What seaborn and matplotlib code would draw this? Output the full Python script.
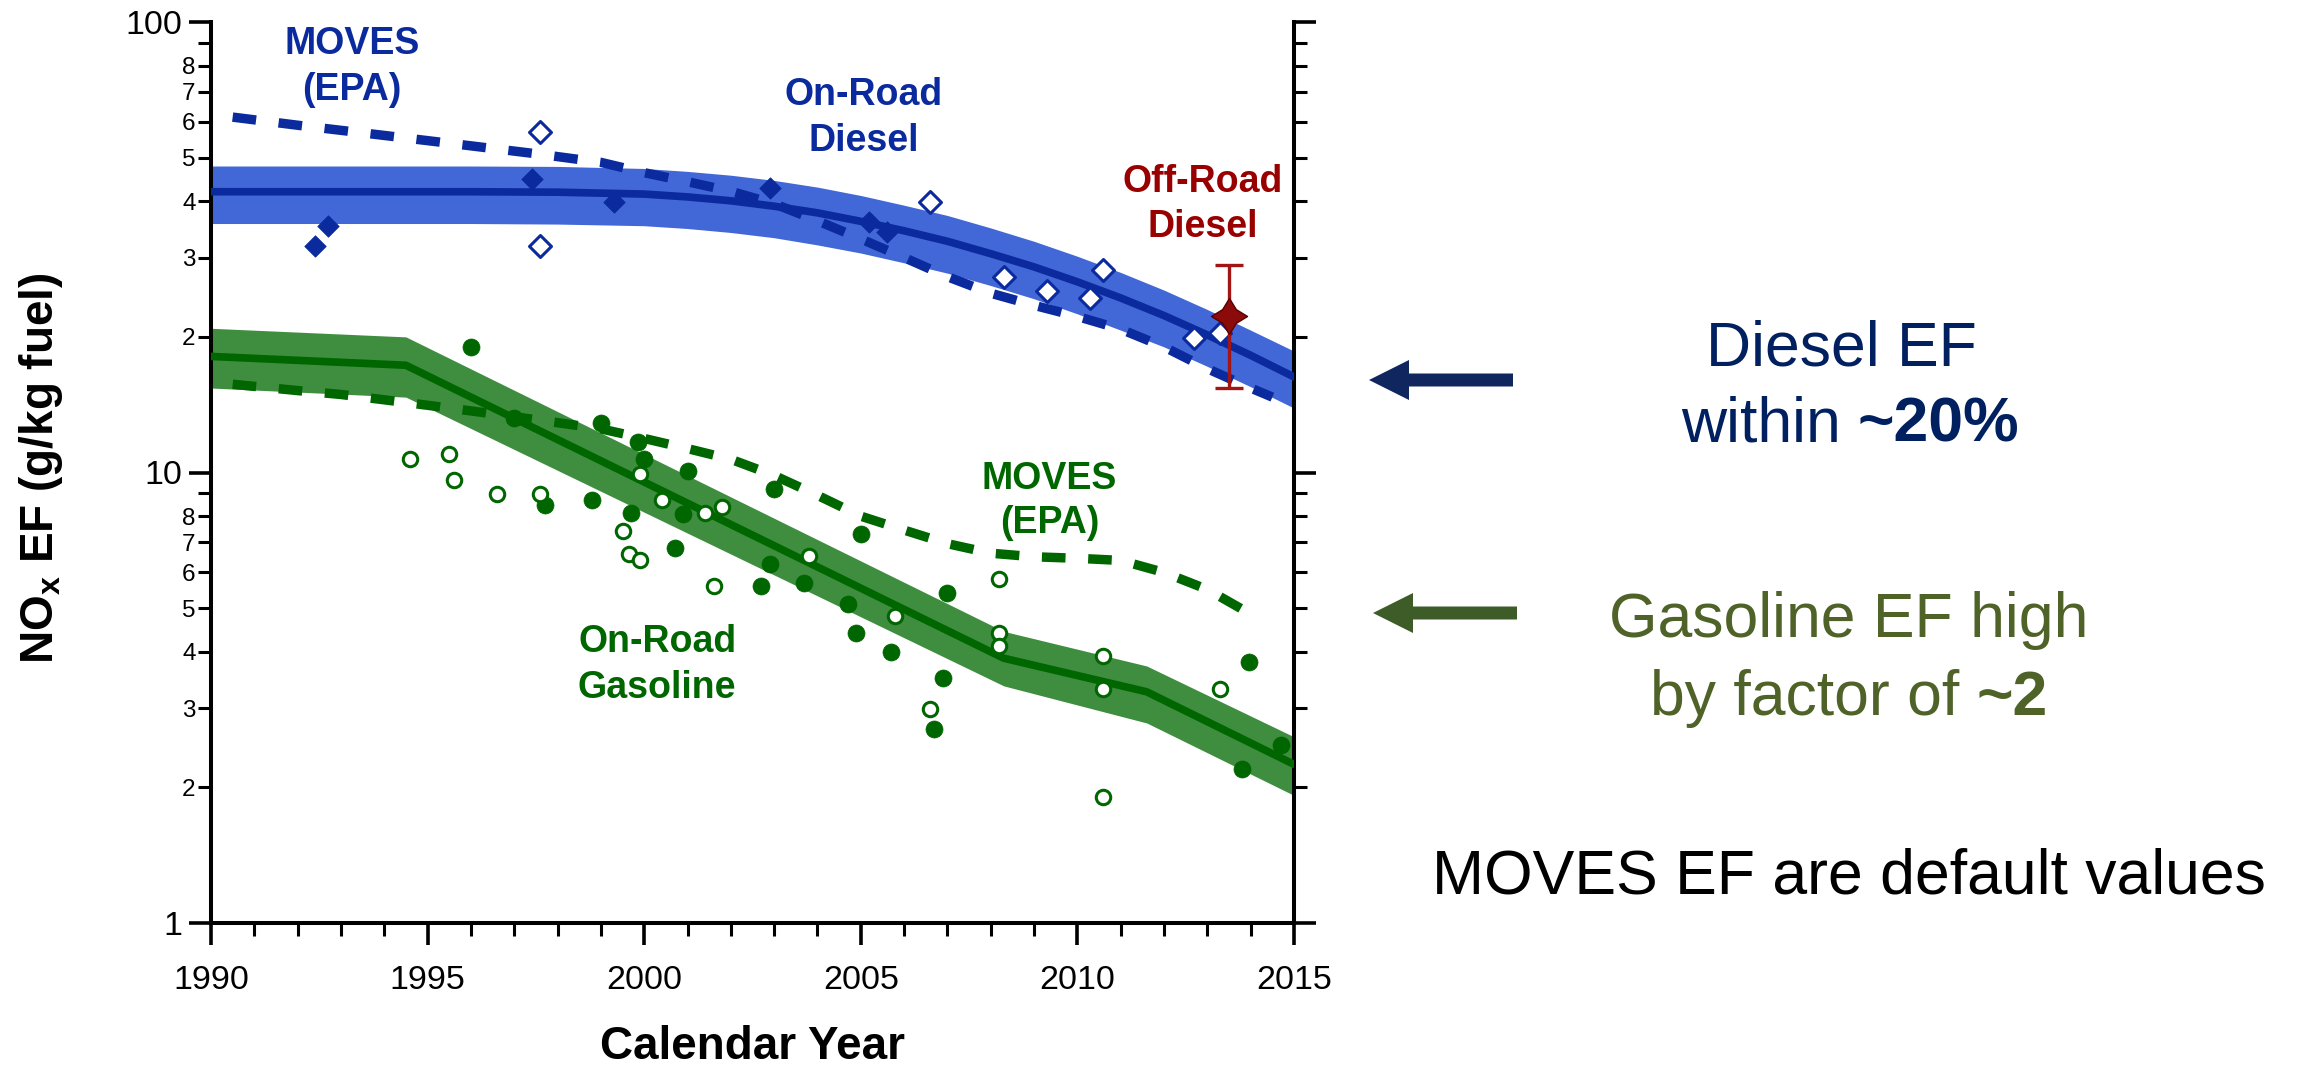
import matplotlib
matplotlib.use("Agg")
import matplotlib.pyplot as plt
from matplotlib.patches import FancyArrow
from matplotlib.path import Path
from matplotlib.ticker import FixedLocator, FixedFormatter
import pandas as pd
import seaborn as sns

# ---------------- data ----------------
# On-road diesel fit: centre line and uncertainty band (g/kg fuel)
diesel_fit_year = [1990, 1996, 1998, 2000, 2001, 2002, 2003, 2004, 2005, 2006, 2007,
                   2008, 2009, 2010, 2011, 2012, 2013, 2014, 2015]
diesel_fit_ef = [42.0, 42.0, 41.9, 41.5, 40.9, 40.1, 39.0, 37.7, 36.1, 34.4, 32.6,
                 30.6, 28.6, 26.5, 24.4, 22.3, 20.2, 18.2, 16.3]
diesel_fit_hi = [47.9, 47.9, 47.8, 47.3, 46.6, 45.7, 44.5, 43.0, 41.2, 39.2, 37.2,
                 34.9, 32.6, 30.2, 27.8, 25.4, 23.0, 20.7, 18.6]
diesel_fit_lo = [35.7, 35.7, 35.6, 35.3, 34.8, 34.1, 33.2, 32.0, 30.7, 29.2, 27.7,
                 26.0, 24.3, 22.5, 20.7, 19.0, 17.2, 15.5, 13.9]

# MOVES (EPA) default diesel emission factors
diesel_moves_year = [1990.5, 1992, 1994, 1996, 1997.5, 1999, 2000, 2001, 2002, 2003, 2004,
                     2005, 2006, 2007, 2008, 2009, 2010, 2011, 2012, 2013, 2014, 2014.5]
diesel_moves_ef = [61.5, 59.0, 56.0, 53.1, 51.0, 48.8, 46.3, 44.2, 42.1, 39.5, 36.2,
                   33.0, 30.0, 27.2, 25.0, 23.5, 22.2, 20.8, 19.0, 17.0, 15.4, 14.7]

# Diesel measurements (filled and open diamonds)
diesel_filled_year = [1992.4, 1992.7, 1997.4, 1999.3, 2002.9, 2005.2, 2005.6]
diesel_filled_ef = [31.9, 35.2, 44.9, 39.9, 42.7, 36.0, 34.2]
diesel_open_year = [1997.6, 1997.6, 2006.6, 2008.3, 2009.3, 2010.3, 2010.6, 2012.7, 2013.3]
diesel_open_ef = [56.9, 31.9, 39.9, 27.2, 25.3, 24.4, 28.1, 19.9, 20.4]

# Off-road diesel estimate with uncertainty range
offroad_year = [2013.5]
offroad_ef = [22.2]
offroad_lo = [15.4]
offroad_hi = [28.9]

# On-road gasoline fit: centre line and uncertainty band
gas_fit_year = [1990, 1994.5, 2008.3, 2011.6, 2015]
gas_fit_ef = [18.1, 17.3, 3.87, 3.26, 2.25]
gas_fit_hi = [20.9, 20.0, 4.44, 3.72, 2.59]
gas_fit_lo = [15.4, 14.7, 3.36, 2.78, 1.92]

# MOVES (EPA) default gasoline emission factors
gas_moves_year = [1990.5, 1992, 1993, 1994, 1995, 1996, 1997, 1998, 1999, 2000, 2001, 2002,
                  2003, 2004, 2005, 2006, 2007, 2008, 2009, 2010, 2011, 2012, 2013, 2014]
gas_moves_ef = [15.7, 15.2, 14.9, 14.5, 14.1, 13.7, 13.3, 12.9, 12.5, 11.9, 11.3, 10.7,
                9.85, 8.9, 8.0, 7.45, 6.95, 6.62, 6.5, 6.45, 6.38, 6.0, 5.5, 4.85]

# Gasoline measurements (filled and open circles)
gas_filled_year = [1996.0, 1997.0, 1997.7, 1998.8, 1999.0, 1999.7, 1999.85, 2000.0, 2000.7,
                   2000.9, 2001.0, 2002.7, 2002.9, 2003.0, 2003.7, 2004.7, 2004.9, 2005.0,
                   2005.7, 2006.7, 2006.9, 2007.0, 2013.8, 2013.95, 2014.7]
gas_filled_ef = [19.0, 13.2, 8.48, 8.71, 12.9, 8.11, 11.7, 10.7, 6.8,
                 8.1, 10.1, 5.61, 6.27, 9.19, 5.69, 5.1, 4.41, 7.3,
                 3.99, 2.70, 3.50, 5.40, 2.20, 3.79, 2.49]
gas_open_year = [1994.6, 1995.5, 1995.6, 1996.6, 1997.6, 1999.5, 1999.65, 1999.9, 1999.9,
                 2000.4, 2001.4, 2001.6, 2001.8, 2003.8, 2005.8, 2006.6, 2008.2, 2008.2,
                 2008.2, 2010.6, 2010.6, 2010.6, 2013.3]
gas_open_ef = [10.7, 11.0, 9.6, 8.97, 8.97, 7.41, 6.6, 6.4, 9.92,
               8.69, 8.11, 5.61, 8.4, 6.53, 4.81, 2.99, 5.79, 4.41,
               4.11, 3.91, 3.30, 1.90, 3.31]

# axis ticks
x_major = [1990, 1995, 2000, 2005, 2010, 2015]
x_minor = list(range(1990, 2016))
y_major = [1, 10, 100]
y_major_labels = ["1", "10", "100"]
y_minor = [2, 3, 4, 5, 6, 7, 8, 9, 20, 30, 40, 50, 60, 70, 80, 90]
y_minor_labels = ["2", "3", "4", "5", "6", "7", "8", "", "2", "3", "4", "5", "6", "7", "8", ""]

# ---------------- style ----------------
sns.set_theme(style="ticks")
plt.rcParams["font.family"] = ["Liberation Sans", "DejaVu Sans"]
plt.rcParams["mathtext.fontset"] = "custom"
plt.rcParams["mathtext.rm"] = "Liberation Sans"
plt.rcParams["mathtext.bf"] = "Liberation Sans:bold"
plt.rcParams["mathtext.it"] = "Liberation Sans:italic"
plt.rcParams["axes.edgecolor"] = "black"
plt.rcParams["xtick.color"] = "black"
plt.rcParams["ytick.color"] = "black"
plt.rcParams["text.color"] = "black"

BLUE_BAND = "#4267D6"
BLUE_DARK = "#0A2A9E"
GREEN_BAND = "#3F8E40"
GREEN_DARK = "#006600"
RED_TEXT = "#990000"
RED_MARK = "#8B0A0A"
NAVY = "#002060"
OLIVE = "#4F6228"
NAVY_ARROW = "#10265F"
OLIVE_ARROW = "#3D5C27"

W, H = 2303, 1068
fig = plt.figure(figsize=(W / 100, H / 100), dpi=100)
ax = fig.add_axes([211 / W, 1 - 923 / H, (1294 - 211) / W, (923 - 22) / H])


def px(x, y):
    """pixel position (from top-left) to figure inches."""
    return x / 100, (H - y) / 100


# ---------------- bands ----------------
ax.fill_between(diesel_fit_year, diesel_fit_lo, diesel_fit_hi, color=BLUE_BAND, lw=0, zorder=1)
ax.fill_between(gas_fit_year, gas_fit_lo, gas_fit_hi, color=GREEN_BAND, lw=0, zorder=1)

# ---------------- lines ----------------
fit_lines = [
    (diesel_fit_year, diesel_fit_ef, BLUE_DARK),
    (gas_fit_year, gas_fit_ef, GREEN_DARK),
]
for xs, ys, c in fit_lines:
    sns.lineplot(x=xs, y=ys, ax=ax, color=c, lw=5.5, estimator=None, sort=False, zorder=3)

moves_lines = [
    (diesel_moves_year, diesel_moves_ef, BLUE_DARK),
    (gas_moves_year, gas_moves_ef, GREEN_DARK),
]
for xs, ys, c in moves_lines:
    sns.lineplot(x=xs, y=ys, ax=ax, color=c, lw=6.8, estimator=None, sort=False, zorder=4)
    ln = ax.lines[-1]
    ln.set_linestyle((0, (2.5, 2.4)))
    ln.set_dash_capstyle("butt")

# ---------------- markers ----------------
sns.scatterplot(x=diesel_filled_year, y=diesel_filled_ef, ax=ax, marker="D", s=120,
                color=BLUE_DARK, edgecolor=BLUE_DARK, linewidth=0.5, zorder=6, legend=False)
sns.scatterplot(x=diesel_open_year, y=diesel_open_ef, ax=ax, marker="D", s=125,
                color="white", edgecolor=BLUE_DARK, linewidth=2.2, zorder=6, legend=False)
sns.scatterplot(x=gas_filled_year, y=gas_filled_ef, ax=ax, marker="o", s=150,
                color=GREEN_DARK, edgecolor=GREEN_DARK, linewidth=0.5, zorder=6, legend=False)
sns.scatterplot(x=gas_open_year, y=gas_open_ef, ax=ax, marker="o", s=108,
                color="white", edgecolor=GREEN_DARK, linewidth=2.2, zorder=6, legend=False)

# off-road diesel: error bar plus four-pointed star
ax.errorbar(offroad_year, offroad_ef,
            yerr=[[e - lo for e, lo in zip(offroad_ef, offroad_lo)],
                  [hi - e for e, hi in zip(offroad_ef, offroad_hi)]],
            fmt="none", ecolor="#A31515", elinewidth=2.4, capsize=10, capthick=2.4, zorder=7)
k = 0.38
star = Path([(0, 1), (k, k), (1, 0), (k, -k), (0, -1), (-k, -k), (-1, 0), (-k, k), (0, 1)],
            [Path.MOVETO] + [Path.LINETO] * 7 + [Path.CLOSEPOLY])
sns.scatterplot(x=offroad_year, y=offroad_ef, ax=ax, marker=star, s=26 ** 2,
                color=RED_MARK, edgecolor="#5A0000", linewidth=1.0, zorder=8, legend=False)

# ---------------- axes ----------------
ax.set_yscale("log")
ax.set_xlim(1990, 2015)
ax.set_ylim(1, 100)
ax.xaxis.set_major_locator(FixedLocator(x_major))
ax.xaxis.set_minor_locator(FixedLocator(x_minor))
ax.yaxis.set_major_locator(FixedLocator(y_major))
ax.yaxis.set_major_formatter(FixedFormatter(y_major_labels))
ax.yaxis.set_minor_locator(FixedLocator(y_minor))
ax.yaxis.set_minor_formatter(FixedFormatter(y_minor_labels))
ax.set_xlabel("")
ax.set_ylabel("")

for side in ["left", "right", "bottom"]:
    ax.spines[side].set_visible(True)
    ax.spines[side].set_linewidth(2.9)
    ax.spines[side].set_color("black")
ax.spines["top"].set_visible(False)

ax.tick_params(axis="both", which="major", direction="out", length=16, width=2.6,
               labelsize=24.5, colors="black")
ax.tick_params(axis="both", which="minor", direction="out", length=9.5, width=2.2,
               colors="black")
ax.tick_params(axis="x", which="major", pad=14)
ax.tick_params(axis="y", which="major", pad=4.5, right=True, labelright=False)
ax.tick_params(axis="y", which="minor", pad=1.5, labelsize=17.5, right=True, labelright=False)
ax.tick_params(axis="x", which="both", top=False)

# axis titles
fig.text(*px(753, 1059), "Calendar Year", ha="center", va="baseline", fontsize=33,
         fontweight="bold", transform=fig.dpi_scale_trans)
fig.text(*px(53, 468), r"NO$_\mathbf{x}$ EF (g/kg fuel)", rotation=90, rotation_mode="anchor",
         ha="center", va="baseline", fontsize=33, fontweight="bold",
         transform=fig.dpi_scale_trans)

# ---------------- in-plot labels ----------------
LBL = 27
in_plot = [
    ("MOVES", 1993.25, 85.1, BLUE_DARK),
    ("(EPA)", 1993.25, 67.0, BLUE_DARK),
    ("On-Road", 2005.07, 65.3, BLUE_DARK),
    ("Diesel", 2005.07, 51.8, BLUE_DARK),
    ("Off-Road", 2012.9, 42.0, RED_TEXT),
    ("Diesel", 2012.9, 33.3, RED_TEXT),
    ("MOVES", 2009.36, 9.19, GREEN_DARK),
    ("(EPA)", 2009.36, 7.34, GREEN_DARK),
    ("On-Road", 2000.3, 3.99, GREEN_DARK),
    ("Gasoline", 2000.3, 3.16, GREEN_DARK),
]
for s, xv, yv, c in in_plot:
    ax.text(xv, yv, s, ha="center", va="baseline", fontsize=LBL, fontweight="bold",
            color=c, zorder=9)

# ---------------- right-hand commentary ----------------
SIZE = 45
renderer = fig.canvas.get_renderer()


def text_line(parts, cx, baseline, color):
    objs = []
    widths = []
    for s, wgt in parts:
        t = fig.text(0, 0, s, fontsize=SIZE, fontweight=wgt, color=color, ha="left",
                     va="baseline", transform=fig.dpi_scale_trans)
        objs.append(t)
        widths.append(t.get_window_extent(renderer).width)
    gap = 0.278 * SIZE * 100 / 72
    total = sum(widths) + gap * (len(parts) - 1)
    x = cx - total / 2
    for t, w in zip(objs, widths):
        t.set_position(px(x, baseline))
        x += w + gap


text_line([("Diesel EF", "normal")], 1841, 366, NAVY)
text_line([("within", "normal"), ("~20%", "bold")], 1850, 442, NAVY)
text_line([("Gasoline EF high", "normal")], 1849, 637, OLIVE)
text_line([("by factor of", "normal"), ("~2", "bold")], 1849, 715, OLIVE)
text_line([("MOVES EF are default values", "normal")], 1849, 894, "black")

arrows = [
    (1513, 380, NAVY_ARROW),
    (1517, 613, OLIVE_ARROW),
]
for x_tail, y_mid, c in arrows:
    x0, y0 = px(x_tail, y_mid)
    fig.patches.append(FancyArrow(x0, y0, -1.44, 0, width=0.13, head_width=0.40,
                                  head_length=0.40, length_includes_head=True, color=c,
                                  lw=0, transform=fig.dpi_scale_trans, figure=fig))

fig.savefig("out.png", dpi=100)
